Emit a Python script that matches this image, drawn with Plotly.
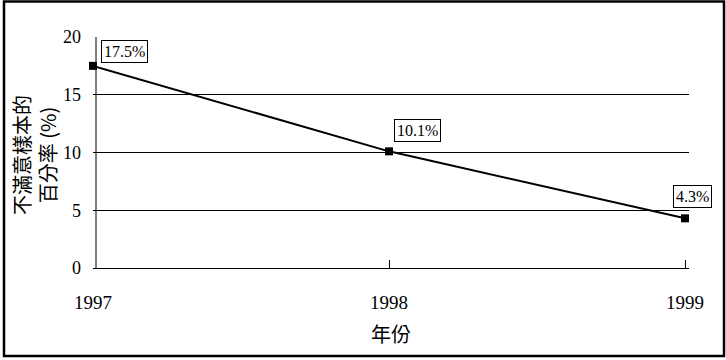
import plotly.graph_objects as go

years = [1997, 1998, 1999]
pct = [17.5, 10.1, 4.3]
labels = ["17.5%", "10.1%", "4.3%"]
y_ticks = [0, 5, 10, 15, 20]
x_tick_text = ["1997", "1998", "1999"]

W, H = 726, 360
L, R, T, B = 93, 37, 37, 92
pw, ph = W - L - R, H - T - B

serif = "Liberation Serif, Times New Roman, serif"
cjk = "Noto Sans CJK TC, Noto Sans CJK SC, sans-serif"

fig = go.Figure()
fig.add_trace(go.Scatter(
    x=years, y=pct, mode="lines+markers",
    line=dict(color="black", width=2),
    marker=dict(symbol="square", size=8, color="black"),
    cliponaxis=False, showlegend=False,
))

shifts = [(31, 14), (28, 21), (7, 22)]
for xv, yv, t, (dx, dy) in zip(years, pct, labels, shifts):
    fig.add_annotation(x=xv, y=yv, text=t, showarrow=False,
                       xshift=dx, yshift=dy,
                       xanchor="center", yanchor="middle",
                       font=dict(family=serif, size=16, color="black"),
                       bordercolor="black", borderwidth=1, borderpad=2,
                       bgcolor="white")

# y-axis title (two lines)
fig.add_annotation(xref="paper", yref="paper",
                   x=(34 - L) / pw, y=(268 - 155) / ph,
                   xanchor="center", yanchor="middle",
                   text="不滿意樣本的<br>百分率 (%)", textangle=-90,
                   showarrow=False,
                   font=dict(family=cjk, size=20, color="black"))
# x-axis title
fig.add_annotation(xref="paper", yref="paper",
                   x=(391 - L) / pw, y=(268 - 333) / ph,
                   xanchor="center", yanchor="middle",
                   text="年份", showarrow=False,
                   font=dict(family=cjk, size=20, color="black"))

# y-axis line (slightly right of the first category)
fig.add_shape(type="line", xref="paper", yref="paper",
              x0=(96 - L) / pw, x1=(96 - L) / pw, y0=0, y1=1,
              line=dict(color="black", width=1), layer="below")

# outer border
fig.add_shape(type="rect", xref="paper", yref="paper",
              x0=(4 - L) / pw, x1=(724 - L) / pw,
              y0=(268 - 356) / ph, y1=(268 - 1.5) / ph,
              line=dict(color="black", width=2.5))

px_per_year = (685 - 93) / 2
x0 = 1997 + (L - 93) / px_per_year
x1 = 1999 + (L + pw - 685) / px_per_year

fig.update_layout(
    width=W, height=H,
    margin=dict(l=L, r=R, t=T, b=B),
    paper_bgcolor="white", plot_bgcolor="white",
    xaxis=dict(range=[x0, x1], tickvals=years, ticktext=x_tick_text,
               showline=True, linecolor="black", linewidth=1,
               ticks="inside", ticklen=8, tickcolor="black",
               showgrid=False, zeroline=False,
               ticklabelstandoff=17,
               tickfont=dict(family=serif, size=19, color="black")),
    yaxis=dict(range=[0, 20], tickvals=y_ticks,
               showline=False,
               showgrid=True, gridcolor="black", gridwidth=1,
               zeroline=False, ticks="", ticklabelstandoff=11,
               tickfont=dict(family=serif, size=18, color="black")),
)

fig.write_html("out.html")
